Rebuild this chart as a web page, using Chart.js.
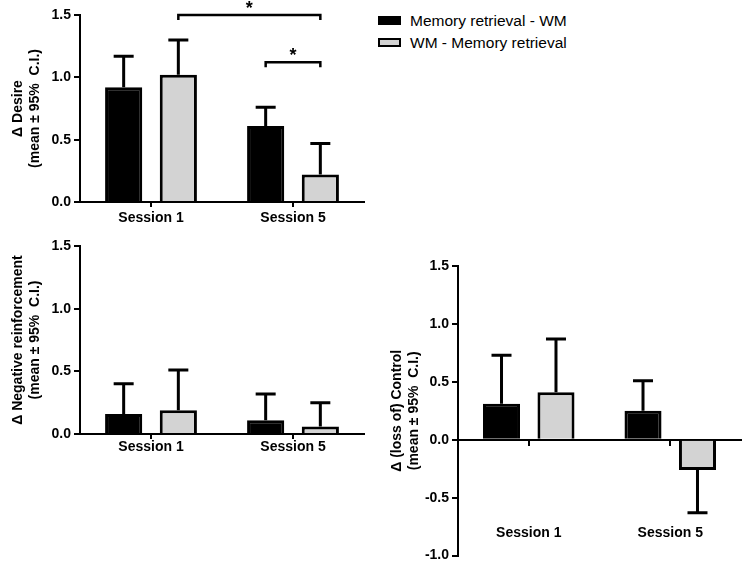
<!DOCTYPE html>
<html>
<head>
<meta charset="utf-8">
<script src="https://cdn.jsdelivr.net/npm/chart.js@4/dist/chart.umd.min.js"></script>
<style>
  body { margin:0; background:#fff; width:742px; height:567px; position:relative; overflow:hidden;
         font-family:"Liberation Sans", Arial, sans-serif; }
  canvas { position:absolute; }
  .leg { position:absolute; left:378px; font-size:15.5px; color:#000; height:18px; line-height:18px; }
  .leg i { position:absolute; left:0; top:4px; width:23px; height:9px; box-sizing:border-box; border:2.5px solid #000; }
  .leg span { position:absolute; left:32px; top:0; white-space:nowrap; }
</style>
</head>
<body>
<canvas id="cDesire" width="366" height="230" style="left:0;top:0"></canvas>
<canvas id="cNeg" width="366" height="230" style="left:0;top:230px"></canvas>
<canvas id="cCtrl" width="364" height="317" style="left:378px;top:250px"></canvas>
<div id="legend"></div>
<script>
const sessions = ['Session 1', 'Session 5'];
const seriesNames = ['Memory retrieval - WM', 'WM - Memory retrieval'];
const seriesColors = ['#000000', '#d3d3d3'];

// Δ Desire
const desireRetrWM = [0.92, 0.61];
const desireRetrWMHi = [1.17, 0.76];
const desireWMRetr = [1.02, 0.22];
const desireWMRetrHi = [1.30, 0.47];

// Δ Negative reinforcement
const negRetrWM = [0.16, 0.11];
const negRetrWMHi = [0.40, 0.32];
const negWMRetr = [0.19, 0.06];
const negWMRetrHi = [0.51, 0.25];

// Δ (loss of) Control
const ctrlRetrWM = [0.31, 0.25];
const ctrlRetrWMHi = [0.73, 0.51];
const ctrlWMRetr = [0.41, -0.26];
const ctrlWMRetrHi = [0.87, -0.63];

const posTicks = [0, 0.5, 1.0, 1.5];
const ctrlTicks = [-1.0, -0.5, 0, 0.5, 1.0, 1.5];

// significance brackets on the desire panel: [dataset, index] -> [dataset, index] at level
const desireSig = [
  { from: [1, 0], to: [1, 1], level: 1.5 },
  { from: [0, 1], to: [1, 1], level: 1.12 }
];

Chart.defaults.font.family = "'Liberation Sans', Arial, sans-serif";
Chart.defaults.color = '#000';

// legend
document.getElementById('legend').innerHTML = seriesNames.map((n, i) =>
  `<div class="leg" style="top:${12 + i * 22}px"><i style="background:${seriesColors[i]}"></i><span>${n}</span></div>`
).join('');

const errorBars = {
  id: 'errorBars',
  beforeDatasetsDraw(chart) {
    const ctx = chart.ctx, y = chart.scales.y;
    ctx.save();
    ctx.strokeStyle = '#000';
    ctx.lineWidth = 3;
    chart.data.datasets.forEach((ds, i) => {
      chart.getDatasetMeta(i).data.forEach((bar, j) => {
        const yEnd = y.getPixelForValue(ds.hi[j]);
        ctx.beginPath();
        ctx.moveTo(bar.x, bar.y); ctx.lineTo(bar.x, yEnd);
        ctx.moveTo(bar.x - 10, yEnd); ctx.lineTo(bar.x + 10, yEnd);
        ctx.stroke();
      });
    });
    ctx.restore();
  }
};

const sigBrackets = {
  id: 'sigBrackets',
  afterDraw(chart, args, opts) {
    const pairs = opts.pairs || [];
    const ctx = chart.ctx, y = chart.scales.y;
    ctx.save();
    ctx.strokeStyle = '#000';
    ctx.fillStyle = '#000';
    ctx.lineWidth = 2.5;
    ctx.font = "bold 18px 'Liberation Sans', Arial, sans-serif";
    ctx.textAlign = 'center';
    ctx.textBaseline = 'alphabetic';
    pairs.forEach(p => {
      const a = chart.getDatasetMeta(p.from[0]).data[p.from[1]];
      const b = chart.getDatasetMeta(p.to[0]).data[p.to[1]];
      const yy = y.getPixelForValue(p.level);
      ctx.beginPath();
      ctx.moveTo(a.x, yy + 5); ctx.lineTo(a.x, yy); ctx.lineTo(b.x, yy); ctx.lineTo(b.x, yy + 5);
      ctx.stroke();
      ctx.fillText('*', (a.x + b.x) / 2, yy - 1);
    });
    ctx.restore();
  }
};

function barPanel(id, o) {
  const tickFont = { size: 14, weight: 'bold' };
  return new Chart(document.getElementById(id), {
    type: 'bar',
    data: {
      labels: sessions,
      datasets: [
        { label: seriesNames[0], data: o.a, hi: o.aHi, backgroundColor: seriesColors[0], borderColor: '#000',
          borderWidth: 3, categoryPercentage: 0.77, barPercentage: 0.68 },
        { label: seriesNames[1], data: o.b, hi: o.bHi, backgroundColor: seriesColors[1], borderColor: '#000',
          borderWidth: 3, categoryPercentage: 0.77, barPercentage: 0.68 }
      ]
    },
    options: {
      responsive: false, animation: false,
      layout: { padding: o.pad },
      plugins: { legend: { display: false }, tooltip: { enabled: false }, sigBrackets: { pairs: o.sig || [] } },
      scales: {
        x: {
          position: o.xPos || 'bottom', offset: true,
          grid: { drawOnChartArea: false, offset: false, tickLength: 5, color: '#000', lineWidth: 2 },
          border: { color: '#000', width: 2 },
          ticks: { color: '#000', font: tickFont, padding: o.xPad },
          afterFit: s => {
            if (o.xH != null) s.height = o.xH;
            s.paddingLeft = 0; s.paddingRight = 0;
          }
        },
        y: {
          min: o.ticks[0], max: o.ticks[o.ticks.length - 1],
          afterBuildTicks: s => { s.ticks = o.ticks.map(v => ({ value: v })); },
          ticks: { color: '#000', font: tickFont, padding: 3, callback: v => v.toFixed(1) },
          grid: { drawOnChartArea: false, tickLength: 6, color: '#000', lineWidth: 2 },
          border: { color: '#000', width: 2 },
          title: { display: true, text: o.title, color: '#000', font: { size: 14, weight: 'bold' },
                   padding: { top: o.tPad, bottom: 0 } },
          afterFit: s => { s.width = 80; }
        }
      }
    },
    plugins: [errorBars, sigBrackets]
  });
}

barPanel('cDesire', {
  a: desireRetrWM, aHi: desireRetrWMHi, b: desireWMRetr, bHi: desireWMRetrHi,
  ticks: posTicks, title: ['\u0394 Desire', '(mean \u00b1 95%  C.I.)'],
  pad: { left: 0, right: 2, top: 15, bottom: 0 }, xH: 28, xPad: 3, tPad: 10, sig: desireSig
});

barPanel('cNeg', {
  a: negRetrWM, aHi: negRetrWMHi, b: negWMRetr, bHi: negWMRetrHi,
  ticks: posTicks, title: ['\u0394 Negative reinforcement', '(mean \u00b1 95%  C.I.)'],
  pad: { left: 0, right: 2, top: 16, bottom: 0 }, xH: 26, xPad: 0, tPad: 10
});

barPanel('cCtrl', {
  a: ctrlRetrWM, aHi: ctrlRetrWMHi, b: ctrlWMRetr, bHi: ctrlWMRetrHi,
  ticks: ctrlTicks, title: ['\u0394 (loss of) Control', '(mean \u00b1 95%  C.I.)'],
  pad: { left: 0, right: 1, top: 16, bottom: 7 }, xPos: { y: 0 }, xPad: 80, tPad: 11
});
</script>
</body>
</html>
